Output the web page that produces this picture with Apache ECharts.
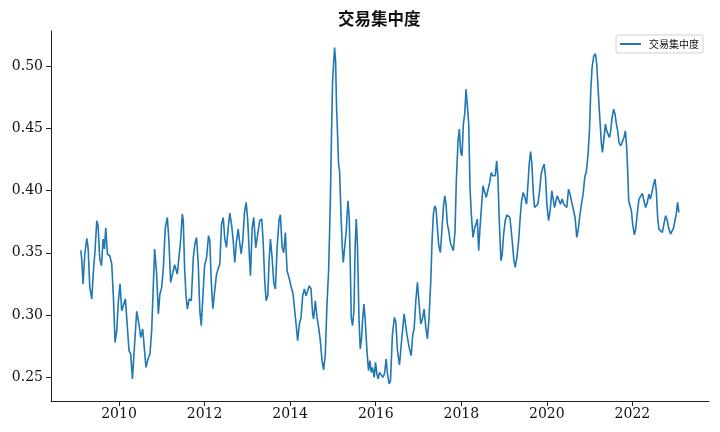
<!DOCTYPE html>
<html>
<head>
<meta charset="utf-8">
<script src="https://cdn.jsdelivr.net/npm/echarts@6/dist/echarts.min.js"></script>
<style>
html,body{margin:0;padding:0;background:#fff;}
#chart{width:720px;height:432px;}
</style>
</head>
<body>
<div id="chart"></div>
<script>
const seriesName = '交易集中度';
const titleText = '交易集中度';

// decimal-year dates of the observations
const dates = [
2009.107,2009.130,2009.160,2009.200,2009.247,2009.277,2009.317,2009.363,2009.403,2009.440,
2009.480,2009.510,2009.550,2009.590,2009.627,2009.659,2009.690,2009.729,2009.783,2009.830,
2009.869,2009.907,2009.946,2009.986,2010.023,2010.063,2010.103,2010.149,2010.196,2010.233,
2010.273,2010.313,2010.350,2010.413,2010.460,2010.506,2010.553,2010.583,2010.630,2010.676,
2010.723,2010.763,2010.833,2010.879,2010.919,2010.956,2010.996,2011.036,2011.082,2011.129,2011.166,2011.206,
2011.246,2011.299,2011.362,2011.400,2011.439,2011.479,2011.502,2011.533,2011.563,2011.596,
2011.642,2011.689,2011.736,2011.773,2011.812,2011.852,2011.889,2011.922,2011.959,2011.999,
2012.046,2012.092,2012.123,2012.155,2012.193,2012.232,2012.279,2012.319,2012.356,2012.396,
2012.435,2012.473,2012.512,2012.552,2012.589,2012.629,2012.669,2012.706,2012.746,2012.785,
2012.816,2012.855,2012.892,2012.932,2012.972,2013.009,2013.049,2013.072,2013.112,2013.149,
2013.196,2013.242,2013.289,2013.336,2013.368,2013.406,2013.438,2013.476,2013.508,2013.539,
2013.578,2013.616,2013.655,2013.695,2013.742,2013.772,2013.812,2013.849,2013.888,2013.928,2013.982,
2014.028,2014.068,2014.105,2014.138,2014.175,2014.215,2014.255,2014.292,2014.332,2014.371,
2014.409,2014.448,2014.488,2014.525,2014.549,2014.588,2014.628,2014.665,2014.705,2014.745,
2014.782,2014.822,2014.861,2014.899,2014.938,2014.968,2014.992,2015.015,2015.038,2015.062,
2015.085,2015.108,2015.132,2015.155,2015.188,2015.218,2015.241,2015.272,2015.311,2015.351,
2015.381,2015.405,2015.428,2015.458,2015.491,2015.521,2015.545,2015.575,2015.608,2015.638,
2015.668,2015.692,2015.724,2015.755,2015.794,2015.832,2015.864,2015.895,2015.925,2015.965,
2015.995,2016.027,2016.058,2016.088,2016.128,2016.167,2016.205,2016.244,2016.275,2016.314,
2016.345,2016.391,2016.438,2016.471,2016.508,2016.555,
2016.611,2016.664,2016.727,2016.781,2016.828,2016.867,2016.898,2016.937,2016.975,2017.014,
2017.054,2017.091,2017.131,2017.170,2017.208,2017.247,2017.287,2017.317,2017.348,2017.380,
2017.411,2017.441,2017.474,2017.511,2017.544,2017.581,2017.614,2017.644,2017.674,2017.707,
2017.744,2017.784,2017.814,2017.854,2017.884,2017.924,2017.954,2017.987,2018.017,2018.048,
2018.080,2018.111,2018.141,2018.174,2018.204,2018.234,2018.274,2018.313,2018.344,2018.374,
2018.407,2018.437,2018.477,2018.507,2018.547,2018.584,2018.624,2018.663,2018.701,2018.733,
2018.764,2018.794,2018.827,2018.857,2018.887,2018.927,2018.957,2018.990,2019.027,2019.067,
2019.107,2019.137,
2019.190,2019.230,2019.260,2019.300,2019.340,2019.377,2019.410,2019.447,2019.487,2019.526,
2019.564,2019.587,2019.620,2019.650,2019.680,2019.713,2019.750,2019.790,2019.830,2019.867,
2019.907,2019.937,2019.970,2020.000,2020.040,2020.077,2020.117,2020.147,2020.180,2020.210,
2020.240,2020.280,2020.319,2020.357,2020.396,2020.436,2020.466,2020.506,2020.543,2020.583,
2020.623,2020.660,2020.700,2020.739,2020.770,2020.809,2020.847,2020.886,2020.926,2020.963,
2020.996,2021.026,2021.057,2021.096,2021.136,2021.166,2021.197,2021.225,
2021.276,2021.299,2021.329,2021.369,2021.399,2021.430,2021.462,2021.493,2021.523,2021.563,
2021.593,2021.626,2021.656,2021.686,2021.726,2021.766,2021.803,2021.836,2021.866,2021.889,
2021.913,2021.943,2021.976,2022.006,2022.046,2022.076,2022.116,2022.153,2022.193,2022.232,
2022.270,2022.309,2022.349,2022.386,2022.419,2022.456,2022.496,2022.526,2022.559,2022.589,
2022.619,2022.659,2022.699,2022.736,2022.776,2022.815,2022.853,2022.892,2022.932,2022.962,
2022.993,2023.025,2023.056,2023.086
];

const values = [
0.352,0.344,0.325,0.349,0.3615,0.354,0.322,0.313,0.336,0.352,
0.3757,0.372,0.345,0.3396,0.361,0.353,0.370,0.349,0.3476,0.341,
0.314,0.278,0.2875,0.3115,0.325,0.3035,0.302,0.313,0.290,0.2714,
0.2688,0.2487,0.2688,0.303,0.294,0.282,0.2888,0.2768,0.258,0.2647,
0.2688,0.2875,0.353,0.333,0.3009,0.3169,0.322,0.338,0.370,0.3783,0.3596,0.3262,
0.325,0.3404,0.333,0.346,0.3596,0.381,0.3757,0.338,0.3169,0.305,
0.313,0.3115,0.346,0.357,0.3623,0.341,0.3035,0.2915,0.314,0.3396,
0.346,0.3636,0.3596,0.3276,0.305,0.318,0.333,0.334,0.341,0.373,
0.3783,0.361,0.3543,0.370,0.3818,0.373,0.3596,0.3422,0.3596,0.369,
0.3596,0.349,0.3596,0.3823,0.3904,0.3757,0.346,0.3316,0.370,0.3783,
0.354,0.365,0.3757,0.377,0.3596,0.3276,0.3115,0.3155,0.3436,0.361,
0.346,0.3262,0.3209,0.3543,0.377,0.3805,0.3543,0.350,0.3663,0.3356,0.3289,
0.322,0.3169,0.3155,0.2928,0.2794,0.2928,0.2981,0.3155,0.321,0.3155,
0.3195,0.3235,0.321,0.3008,0.2968,0.3115,0.2981,0.2901,0.2794,0.2634,
0.2559,0.2688,0.3089,0.3356,0.389,0.4479,0.488,0.5013,0.5147,0.504,
0.4666,0.4452,0.4212,0.4158,0.381,0.3543,0.3422,0.3422,0.3676,0.3917,
0.3783,0.341,0.2981,0.2915,0.3035,0.357,0.377,0.3543,0.2981,0.2728,
0.2808,0.2955,0.3089,0.2955,0.2714,0.2554,0.2634,0.254,0.258,0.25,
0.262,0.2527,0.2487,0.254,0.2527,0.25,0.2527,0.2647,0.2527,0.2447,
0.2473,0.2848,0.2981,0.2941,0.2714,0.26,
0.282,0.3009,0.2848,0.274,0.2674,0.2848,0.2888,0.3115,0.3262,0.3089,
0.2928,0.2968,0.3048,0.2901,0.2808,0.2981,0.3276,0.3596,0.381,0.3877,
0.385,0.370,0.3556,0.3502,0.3663,0.3863,0.3957,0.389,0.373,0.3676,
0.3583,0.3583,0.3516,0.3676,0.4078,0.4398,0.4492,0.4305,0.4278,0.4532,
0.4613,0.4813,0.48,0.4532,0.4024,0.381,0.3623,0.370,0.373,0.377,
0.3516,0.370,0.389,0.4037,0.4024,0.3944,0.3944,0.4064,0.4144,0.4118,
0.4131,0.4118,0.4238,0.4104,0.3757,0.3436,0.349,0.365,0.3757,0.3805,
0.3816,0.3783,
0.3596,0.3436,0.3382,0.3462,0.3596,0.3783,0.3917,0.3984,0.3944,0.389,
0.4078,0.4212,0.4313,0.4212,0.3997,0.3863,0.385,0.389,0.3997,0.4131,
0.4184,0.4212,0.4104,0.389,0.3757,0.3837,0.3997,0.401,0.3863,0.3877,
0.3957,0.3957,0.389,0.3931,0.389,0.3904,0.3863,0.401,0.397,0.3904,
0.389,0.3783,0.3623,0.370,0.3797,0.389,0.397,0.4104,0.4158,0.4292,
0.4479,0.48,0.4986,0.508,0.5097,0.5013,0.4826,0.465,
0.4372,0.4305,0.4398,0.4532,0.4479,0.4452,0.4425,0.4479,0.4585,0.4653,
0.4613,0.4532,0.4479,0.4385,0.4358,0.435,0.4425,0.4479,0.4345,0.4158,
0.3917,0.3931,0.3837,0.373,0.3644,0.369,0.3823,0.3931,0.3917,0.3976,
0.3917,0.3863,0.3904,0.397,0.3931,0.3984,0.4051,0.4091,0.3997,0.3783,
0.369,0.3676,0.3663,0.373,0.3797,0.3757,0.369,0.365,0.3636,0.370,
0.3757,0.381,0.3904,0.3823
];

const xTickYears = [2010, 2012, 2014, 2016, 2018, 2020, 2022];
const yTickValues = [0.25, 0.30, 0.35, 0.40, 0.45, 0.50];

const data = dates.map((d, i) => [d, values[i]]);

const chart = echarts.init(document.getElementById('chart'), null, {renderer: 'canvas'});
const axisColor = '#222';
const tickFont = {fontFamily: 'DejaVu Serif', fontSize: 14, color: '#111'};

chart.setOption({
  animation: false,
  backgroundColor: '#fff',
  title: {
    text: titleText,
    left: 338,
    top: 10,
    padding: 0,
    textStyle: {fontFamily: 'Noto Sans CJK SC', fontSize: 16.5, fontWeight: 'bold', color: '#111'}
  },
  legend: {
    data: [{name: seriesName, icon: 'rect'}],
    right: 17,
    top: 35,
    padding: [4, 4, 4, 4],
    borderColor: '#d0d0d0',
    borderWidth: 1,
    borderRadius: 2,
    itemWidth: 21,
    itemHeight: 2,
    textStyle: {fontFamily: 'Noto Sans CJK SC', fontSize: 10, color: '#111', padding: [0, 0, 0, 3]}
  },
  grid: {left: 51, right: 11, top: 31, bottom: 31, containLabel: false},
  xAxis: {
    type: 'value',
    min: 2008.41,
    max: 2023.79,
    splitLine: {show: false},
    axisLine: {show: true, onZero: false, lineStyle: {color: axisColor, width: 1}},
    axisTick: {show: true, length: 5, customValues: xTickYears, lineStyle: {color: axisColor}},
    axisLabel: Object.assign({customValues: xTickYears, margin: 6, formatter: v => String(Math.round(v))}, tickFont)
  },
  yAxis: {
    type: 'value',
    min: 0.231,
    max: 0.528,
    splitLine: {show: false},
    axisLine: {show: true, lineStyle: {color: axisColor, width: 1}},
    axisTick: {show: true, length: 5, customValues: yTickValues, lineStyle: {color: axisColor}},
    axisLabel: Object.assign({customValues: yTickValues, margin: 8, formatter: v => v.toFixed(2)}, tickFont)
  },
  series: [{
    name: seriesName,
    type: 'line',
    data: data,
    symbol: 'none',
    smooth: false,
    lineStyle: {color: '#1f77b4', width: 1.6},
    itemStyle: {color: '#1f77b4'}
  }]
});
</script>
</body>
</html>
